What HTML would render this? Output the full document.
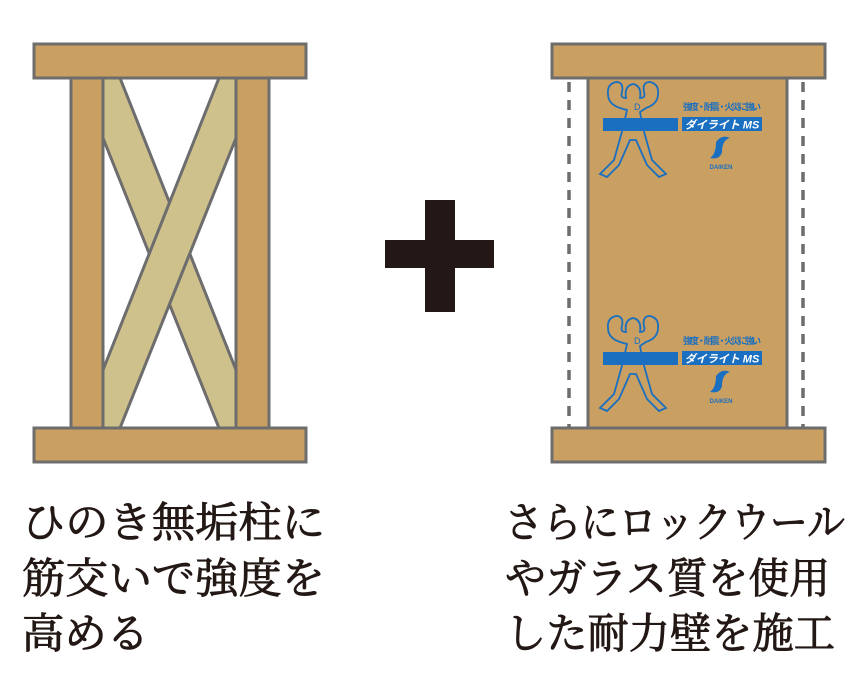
<!DOCTYPE html>
<html><head><meta charset="utf-8"><style>
html,body{margin:0;padding:0;background:#fff;}
svg{display:block}
</style></head><body>
<svg width="858" height="682" viewBox="0 0 858 682" xmlns="http://www.w3.org/2000/svg">
<defs>
<g id="logo">
  <rect x="603" y="118" width="75" height="13" fill="#1a6fc0"/>
  <rect x="682" y="117" width="80" height="14" fill="#1a6fc0"/>
  <text x="722" y="128.5" font-family="Liberation Sans, 'Noto Sans CJK JP', sans-serif" font-size="11" font-weight="bold" font-style="italic" fill="#fff" text-anchor="middle">ダイライト MS</text>
  <text x="722" y="110" font-family="Liberation Sans, 'Noto Sans CJK JP', sans-serif" font-size="9" font-weight="bold" fill="#1a6fc0" text-anchor="middle" textLength="78">強度・耐震・火災に強い</text>
  <path d="M716 142 Q722 134 730 138 Q722 140 722 152 Q720 160 710 158 Q716 154 716 142Z" fill="#1a6fc0"/>
  <text x="721" y="169" font-family="Liberation Sans, sans-serif" font-size="6" font-weight="bold" fill="#1a6fc0" text-anchor="middle">DAIKEN</text>
  <path d="M627 110 L620 108 Q608 104 608 94 Q607 84 616 82 Q624 82 622 92 Q620 98 626 98 Q624 86 633 84 Q642 86 640 98 Q646 98 644 92 Q642 82 650 82 Q659 84 658 94 Q658 104 646 108 L640 112 L643 128 L652 160 L666 174 L659 177 L647 165 L636 140 L630 140 L619 165 L607 177 L600 174 L614 160 L623 128 Z" fill="none" stroke="#1a6fc0" stroke-width="1.8"/>
  <text x="634" y="110" font-family="Liberation Sans, sans-serif" font-size="9" fill="#1a6fc0">D</text>
</g>
</defs>

<!-- LEFT FRAME -->
<g stroke="#6d6d6d" stroke-width="3">
  <polygon points="103,78 120,78 236,370 236,428 219,428 103,138" fill="#cfc18c"/>
  <polygon points="236,78 219,78 103,370 103,428 120,428 236,138" fill="#cfc18c"/>
  <rect x="71" y="78" width="32" height="350" fill="#c99f62"/>
  <rect x="236" y="78" width="33" height="350" fill="#c99f62"/>
  <rect x="34" y="44" width="272" height="34" fill="#c99f62"/>
  <rect x="34" y="428" width="272" height="34" fill="#c99f62"/>
</g>

<!-- PLUS -->
<rect x="385" y="240" width="109" height="28" fill="#231815"/>
<rect x="425" y="200" width="30" height="112" fill="#231815"/>

<!-- RIGHT FRAME -->
<g stroke="#6d6d6d" stroke-width="3.5" stroke-dasharray="10,8">
  <line x1="569" y1="82" x2="569" y2="428"/>
  <line x1="803" y1="82" x2="803" y2="428"/>
</g>
<g stroke="#6d6d6d" stroke-width="3">
  <rect x="588" y="78" width="199" height="350" fill="#c99f62"/>
  <rect x="552" y="44" width="273" height="34" fill="#c99f62"/>
  <rect x="552" y="428" width="273" height="34" fill="#c99f62"/>
</g>
<use href="#logo"/>
<use href="#logo" transform="translate(0,234)"/>

<!-- TEXT -->
<g font-family="'Liberation Serif', 'Noto Serif CJK JP', 'Noto Serif CJK SC', serif" font-size="42" fill="#231815" stroke="#231815" stroke-width="0.9">
  <text x="22" y="537" textLength="303" lengthAdjust="spacingAndGlyphs">ひのき無垢柱に</text>
  <text x="22" y="593" textLength="303" lengthAdjust="spacingAndGlyphs">筋交いで強度を</text>
  <text x="22" y="648" textLength="127" lengthAdjust="spacingAndGlyphs">高める</text>
  <text x="505" y="537" textLength="340" lengthAdjust="spacingAndGlyphs">さらにロックウール</text>
  <text x="505" y="593" textLength="325" lengthAdjust="spacingAndGlyphs">やガラス質を使用</text>
  <text x="505" y="648" textLength="330" lengthAdjust="spacingAndGlyphs">した耐力壁を施工</text>
</g>
</svg>
</body></html>
